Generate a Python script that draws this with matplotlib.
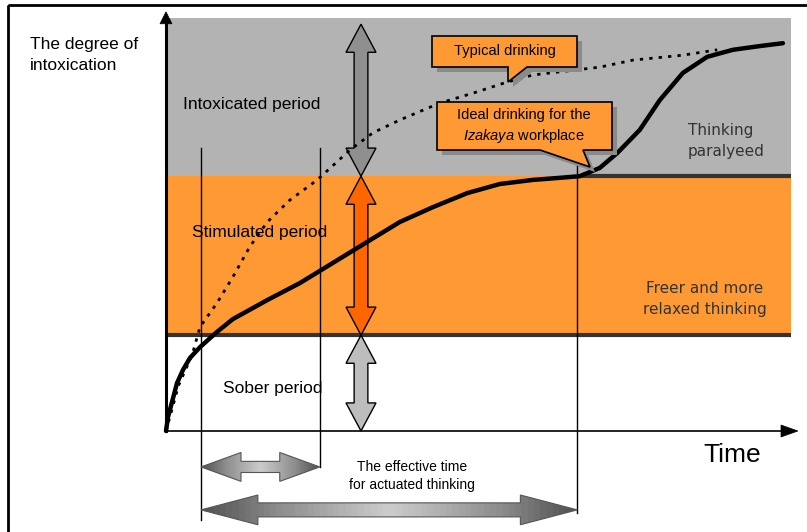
import matplotlib

matplotlib.use("Agg")
import matplotlib.pyplot as plt  # noqa: E402
import matplotlib.transforms as mtransforms  # noqa: E402
from matplotlib.patches import Polygon, Rectangle  # noqa: E402
import numpy as np  # noqa: E402

plt.rcParams["font.family"] = ["Liberation Sans", "DejaVu Sans"]
plt.rcParams["mathtext.fontset"] = "custom"
plt.rcParams["mathtext.rm"] = "Liberation Sans"
plt.rcParams["mathtext.it"] = "Liberation Sans:italic"

# --- data: time (0-100) vs degree of intoxication (0-100) -------------------
ideal_time = [0, 0.32, 0.96, 1.76, 2.72, 3.84, 5.44, 8.16, 10.7, 16.2, 21.4,
              26.7, 32.2, 37.4, 42.7, 48.2, 53.4, 58.7, 63.0, 66.2, 69.4,
              72.2, 75.8, 79.0, 82.7, 86.6, 90.7, 95.0, 98.7]
ideal_degree = [0, 3.4, 7.0, 11.6, 14.8, 17.7, 20.3, 24.0, 27.1, 31.7, 35.8,
                40.7, 45.8, 50.6, 54.2, 57.6, 59.8, 60.8, 61.3, 61.7, 63.7,
                67.3, 72.9, 80.1, 86.7, 90.6, 92.3, 93.2, 93.9]

typical_time = [0, 2.0, 4.2, 5.44, 8.16, 10.7, 13.4, 16.2, 19.8, 24.2, 29.4,
                33.1, 37.4, 43.8, 49.1, 54.6, 58.7, 69.4, 74.7, 82.7, 88.2]
typical_degree = [0, 11.0, 18.5, 25.2, 31.0, 37.3, 44.6, 50.6, 55.9, 60.8,
                  68.0, 72.2, 75.3, 79.4, 81.8, 84.5, 86.2, 88.1, 89.8, 91.0,
                  92.3]

phase_labels = ["Sober period", "Stimulated period", "Intoxicated period"]
phase_bounds = [0, 23.2, 61.7, 100]
phase_colors = ["white", "#ff9933", "#b3b3b3"]
phase_arrow_colors = ["#bdbdbd", "#ff6600", "#8f8f8f"]

# onset of effect, end of typical effective time, end of ideal effective time
effect_times = [5.6, 24.6, 65.8]

# --- layout (pixels of the 807x532 canvas) -----------------------------------
W, H = 807, 532
X0, Y0 = 166, 431          # origin of the time / degree axes
XS, YS = 6.25, 4.13        # pixels per unit

fig = plt.figure(figsize=(W / 100, H / 100), dpi=100)
ax = fig.add_axes([0, 0, 1, 1])
ax.axis("off")
pix = mtransforms.Affine2D().scale(1 / XS, -1 / YS).translate(-X0 / XS, Y0 / YS) + ax.transData


def double_arrow(a, b, at, head_len, head_half, shaft_half, vertical=False):
    """Outline of a two-headed block arrow from a to b, centred on `at`."""
    pts = [(a, 0), (a + head_len, head_half), (a + head_len, shaft_half),
           (b - head_len, shaft_half), (b - head_len, head_half), (b, 0),
           (b - head_len, -head_half), (b - head_len, -shaft_half),
           (a + head_len, -shaft_half), (a + head_len, -head_half)]
    if vertical:
        return [(at + s, p) for p, s in pts]
    return [(p, at + s) for p, s in pts]


# phase bands
for lo, hi, c in zip(phase_bounds[:-1], phase_bounds[1:], phase_colors):
    ax.fill_between([0, 100], lo, hi, color=c, lw=0, zorder=1)
ax.plot([0, 100], [phase_bounds[1]] * 2, color="#333333", lw=3, zorder=2,
        solid_capstyle="butt")
ax.plot([effect_times[2], 100], [phase_bounds[2]] * 2, color="#333333", lw=3,
        zorder=2, solid_capstyle="butt")

# effective-time markers
small_y, big_y = -8.7, -19.1
ax.plot([effect_times[0]] * 2, [68.5, -21.5], color="black", lw=1, zorder=3)
ax.plot([effect_times[1]] * 2, [68.5, small_y], color="black", lw=1, zorder=3)
ax.plot([effect_times[2]] * 2, [65.0, -19.9], color="black", lw=1, zorder=3)

# vertical phase arrows
for lo, hi, c in zip(phase_bounds[:-1], phase_bounds[1:], phase_arrow_colors):
    top = min(hi, 98.5)
    ax.add_patch(Polygon(double_arrow(lo, top, 31.2, 6.8, 2.4, 1.1, vertical=True),
                         closed=True, fc=c, ec="black", lw=1, zorder=4))

# horizontal effective-time arrows with grey gradient
shade = np.interp(np.linspace(0, 1, 60), [0, 0.2, 0.5, 0.8, 1],
                  [0.32, 0.55, 0.8, 0.55, 0.32])[None, :]
for a, b, y, hl, hh, sh in [(effect_times[0], effect_times[1], small_y, 6.4, 3.5, 1.35),
                            (effect_times[0], effect_times[2], big_y, 9.1, 3.6, 1.7)]:
    poly = Polygon(double_arrow(a, b, y, hl, hh, sh), closed=True, fc="none",
                   ec="#555555", lw=0.8, zorder=5)
    ax.add_patch(poly)
    im = ax.imshow(shade, cmap="gray", vmin=0, vmax=1, aspect="auto",
                   extent=[a, b, y - hh, y + hh], zorder=4)
    im.set_clip_path(poly)

# curves
ax.plot(ideal_time, ideal_degree, color="black", lw=3.2, zorder=6,
        solid_capstyle="round", solid_joinstyle="round")
ax.plot(typical_time, typical_degree, color="black", lw=2, zorder=6,
        linestyle=(0, (1.2, 2.2)))

# axes with arrow heads
ax.plot([0, 0], [0, 99], color="black", lw=2.2, zorder=8)
ax.add_patch(Polygon([(0, 101.5), (-0.96, 98.6), (0.96, 98.6)], closed=True,
                     fc="black", ec="black", lw=0.5, zorder=8))
ax.plot([0, 99], [0, 0], color="black", lw=1.2, zorder=8)
ax.add_patch(Polygon([(101.1, 0), (98.4, 1.45), (98.4, -1.45)], closed=True,
                     fc="black", ec="black", lw=0.5, zorder=8))

# callouts (pixel coordinates)
callouts = [
    ([(432, 36), (577, 36), (577, 67), (527, 67), (508, 82), (508, 67), (432, 67)],
     [("Typical drinking", 505, 51)]),
    ([(437, 102), (612, 102), (612, 150), (583, 150), (590, 167), (540, 150), (437, 150)],
     [("Ideal drinking for the", 524, 115), (r"$\mathit{Izakaya}$ workplace", 524, 136)]),
]
for verts, lines in callouts:
    shadow = [(x + 5, y + 5) for x, y in verts]
    ax.add_patch(Polygon(shadow, closed=True, fc="#8a8a8a", ec="none",
                         transform=pix, zorder=9))
    ax.add_patch(Polygon(verts, closed=True, fc="#ff9933", ec="black", lw=1.2,
                         transform=pix, zorder=10))
    for s, x, y in lines:
        ax.text(x, y, s, transform=pix, ha="center", va="center",
                fontsize=10.5, zorder=11)

# labels
ax.text(30, 55, "The degree of\nintoxication", transform=pix, ha="left",
        va="center", fontsize=12.5, linespacing=1.45, zorder=11)
ax.text(183, 105, phase_labels[2], transform=pix, ha="left", va="center",
        fontsize=12.5, zorder=11)
ax.text(192, 233, phase_labels[1], transform=pix, ha="left", va="center",
        fontsize=12.5, zorder=11)
ax.text(223, 388, phase_labels[0], transform=pix, ha="left", va="center",
        fontsize=12.5, zorder=11)
ax.text(688, 141, "Thinking\nparalyeed", transform=pix, ha="left",
        va="center", fontsize=11, family="DejaVu Sans", color="#333333",
        linespacing=1.45, zorder=11)
ax.text(705, 299, "Freer and more\nrelaxed thinking", transform=pix,
        ha="center", va="center", fontsize=11, family="DejaVu Sans",
        color="#333333", linespacing=1.45, zorder=11)
ax.text(703, 455, "Time", transform=pix, ha="left", va="center", fontsize=19,
        zorder=11)
ax.text(412, 476, "The effective time\nfor actuated thinking", transform=pix,
        ha="center", va="center", fontsize=10, linespacing=1.3, zorder=11)

# outer frame: only the left and top edges fall inside the canvas
ax.add_patch(Rectangle((8, 5), 820, 540, fill=False, ec="black", lw=2,
                       transform=pix, zorder=12, clip_on=False))

ax.set_xlim(-X0 / XS, (W - X0) / XS)
ax.set_ylim(-(H - Y0) / YS, Y0 / YS)
fig.savefig("out.png", dpi=100)
